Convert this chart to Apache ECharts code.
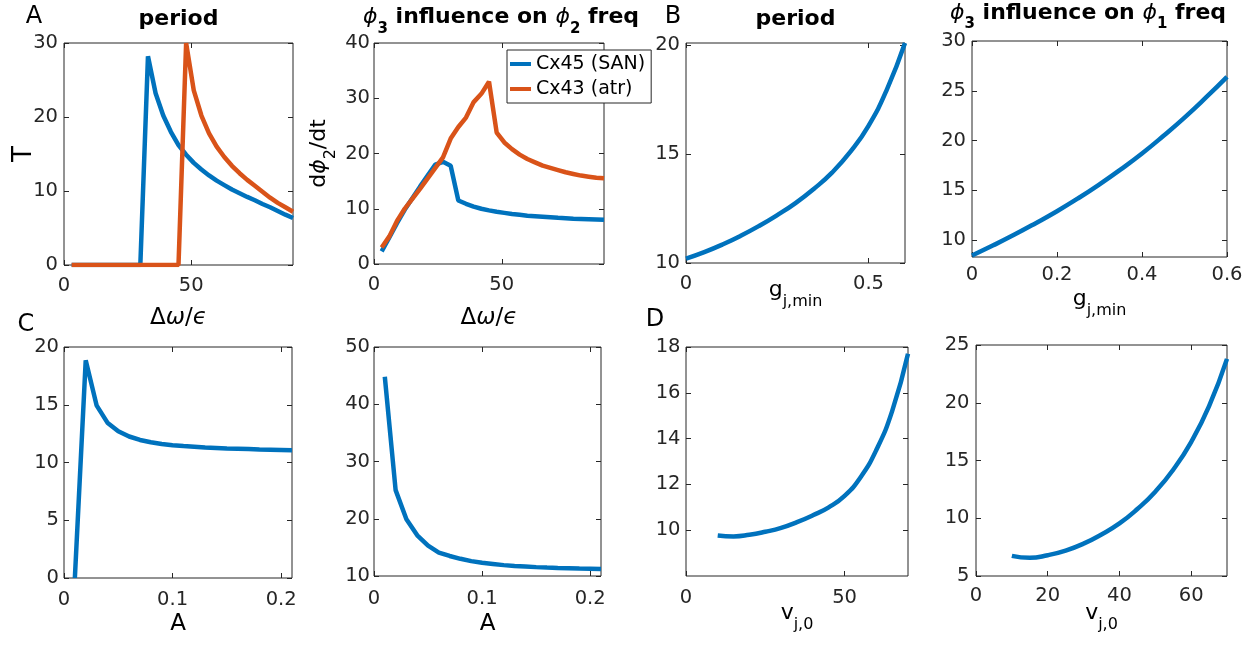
<!DOCTYPE html>
<html><head><meta charset="utf-8">
<script src="https://cdn.jsdelivr.net/npm/echarts@6.0.0/dist/echarts.min.js"></script>
<style>html,body{margin:0;padding:0;background:#fff}#c{width:1255px;height:649px}</style>
</head><body><div id="c"></div>
<script>
const FONT = 'DejaVu Sans';
const INK = '#262626';
const BLUE = '#0072BD', ORANGE = '#D95319';

// ---------------- data ----------------
const dwEps = [3,6,9,12,15,18,21,24,27,30,33,36,39,42,45,48,51,54,57,60,63,66,69,72,75,78,81,84,87,90];
const periodSAN = [0,0,0,0,0,0,0,0,0,0,28.2,23.2,20.2,18.0,16.2,14.9,13.8,12.9,12.1,11.4,10.8,10.2,9.7,9.2,8.75,8.25,7.8,7.3,6.8,6.35];
const periodAtr = [0,0,0,0,0,0,0,0,0,0,0,0,0,0,0,30,23.6,20.2,17.8,16.0,14.6,13.4,12.4,11.5,10.7,9.9,9.1,8.4,7.8,7.2];
const freqSAN = [2.3,4.8,7.4,9.8,11.9,14.0,16.0,18.0,18.5,17.8,11.5,10.9,10.4,10.0,9.7,9.45,9.25,9.05,8.9,8.75,8.65,8.55,8.45,8.35,8.3,8.2,8.15,8.1,8.05,8.0];
const freqAtr = [3.0,5.0,7.8,10.0,11.8,13.6,15.5,17.4,19.3,22.7,24.8,26.5,29.3,30.8,33.0,23.8,22.0,20.8,19.8,19.0,18.4,17.8,17.4,17.0,16.6,16.3,16.0,15.8,15.6,15.5];

const gMin = [0,0.05,0.1,0.15,0.2,0.25,0.3,0.35,0.4,0.45,0.5,0.55,0.6];
const periodG = [10.2,10.5,10.85,11.25,11.7,12.2,12.75,13.4,14.15,15.1,16.3,17.95,20.1];
const freqG = [8.45,9.47,10.55,11.7,12.9,14.2,15.6,17.1,18.7,20.45,22.3,24.3,26.4];

const ampA = [0.01,0.02,0.03,0.04,0.05,0.06,0.07,0.08,0.09,0.10,0.11,0.12,0.13,0.14,0.15,0.16,0.17,0.18,0.19,0.20,0.21];
const periodA = [0,18.85,14.95,13.45,12.7,12.25,11.95,11.75,11.6,11.5,11.42,11.36,11.3,11.26,11.22,11.19,11.16,11.13,11.11,11.09,11.07];
const freqA = [44.8,25.0,19.9,17.1,15.3,14.1,13.5,13.0,12.6,12.3,12.1,11.9,11.75,11.65,11.55,11.47,11.4,11.35,11.3,11.27,11.24];

const vj0 = [10,15,20,25,30,35,40,45,50,55,60,65,70];
const periodV = [9.77,9.73,9.8,9.93,10.1,10.35,10.65,11.0,11.5,12.3,13.5,15.2,17.7];
const freqV = [6.74,6.57,6.8,7.2,7.8,8.6,9.55,10.8,12.3,14.2,16.6,19.7,23.8];

// ---------------- tick labels ----------------
const ticksDw = [0,50];
const ticksT30 = [0,10,20,30];
const ticksF40 = [0,10,20,30,40];
const ticksG1 = [0,0.5];
const ticksG2 = [0,0.2,0.4,0.6];
const ticksPG = [10,15,20];
const ticksFG = [10,15,20,25,30];
const ticksA = [0,0.1,0.2];
const ticksPA = [0,5,10,15,20];
const ticksFA = [10,20,30,40,50];
const ticksV1 = [0,50];
const ticksV2 = [0,20,40,60];
const ticksPV = [10,12,14,16,18];
const ticksFV = [5,10,15,20,25];

const legendNames = ['Cx45 (SAN)', 'Cx43 (atr)'];

// ---------------- layout ----------------
const panels = [
  {rect:[64,43,229,222], xr:[0,90], yr:[0,30], xt:ticksDw, yt:ticksT30, xm:10.5, ym:6,
   xName:'{n|Δ}{i|ω}{n|/}{i|ϵ}', xGap:41.5, yName:'{T|T}', yGap:27,
   lines:[[dwEps,periodSAN,BLUE,legendNames[0]],[dwEps,periodAtr,ORANGE,legendNames[1]]], smooth:false},
  {rect:[374,43,230,221], xr:[0,90], yr:[0,40], xt:ticksDw, yt:ticksF40, xm:10.5, ym:4,
   xName:'{n|Δ}{i|ω}{n|/}{i|ϵ}', xGap:42.5, yName:'{g|d}{gi|ϕ}{s|2}{g|/dt}', yGap:43,
   lines:[[dwEps,freqSAN,BLUE,legendNames[0]],[dwEps,freqAtr,ORANGE,legendNames[1]]], smooth:false},
  {rect:[686,43,219,220], xr:[0,0.6], yr:[10,20.1], xt:ticksG1, yt:ticksPG, xm:11, ym:6,
   xName:'{g|g}{s|j,min}', xGap:15, lines:[[gMin,periodG,BLUE,legendNames[0]]], smooth:0.5},
  {rect:[972,41,255,216], xr:[0,0.6], yr:[8.3,30], xt:ticksG2, yt:ticksFG, xm:8, ym:6,
   xName:'{g|g}{s|j,min}', xGap:30, lines:[[gMin,freqG,BLUE,legendNames[0]]], smooth:0.5},
  {rect:[64,347,228,231], xr:[0,0.21], yr:[0,20], xt:ticksA, yt:ticksPA, xm:12, ym:5,
   xName:'{n|A}', xGap:34, lines:[[ampA,periodA,BLUE,legendNames[0]]], smooth:false},
  {rect:[374,347,227,229], xr:[0,0.21], yr:[10,50], xt:ticksA, yt:ticksFA, xm:13, ym:4,
   xName:'{n|A}', xGap:36, lines:[[ampA,freqA,BLUE,legendNames[0]]], smooth:false},
  {rect:[686,347,222,229], xr:[0,70], yr:[8,18], xt:ticksV1, yt:ticksPV, xm:12, ym:5.5,
   xName:'{g|v}{s|j,0}', xGap:25, lines:[[vj0,periodV,BLUE,legendNames[0]]], smooth:0.5},
  {rect:[976,345,251,231], xr:[0,70], yr:[5,25], xt:ticksV2, yt:ticksFV, xm:10, ym:6.5,
   xName:'{g|v}{s|j,0}', xGap:25, lines:[[vj0,freqV,BLUE,legendNames[0]]], smooth:0.5}
];

const nameRich = {
  n: {fontFamily:FONT, fontSize:23, lineHeight:24, color:'#000'},
  i: {fontFamily:FONT, fontSize:23, lineHeight:24, fontStyle:'italic', color:'#000'},
  g: {fontFamily:FONT, fontSize:22, lineHeight:24, color:'#000'},
  gi: {fontFamily:FONT, fontSize:22, lineHeight:24, fontStyle:'italic', color:'#000'},
  T: {fontFamily:FONT, fontSize:26, lineHeight:26, color:'#000'},
  s: {fontFamily:FONT, fontSize:16, lineHeight:24, color:'#000', padding:[23,0,0,0]}
};

const grid = [], xAxis = [], yAxis = [], series = [];
panels.forEach((p, k) => {
  grid.push({left:p.rect[0], top:p.rect[1], width:p.rect[2], height:p.rect[3],
    show:true, borderColor:INK, borderWidth:1, backgroundColor:'transparent', containLabel:false});
  const tick = (vals) => ({inside:true, length:5, lineStyle:{color:INK, width:1}, customValues:vals});
  const lbl = (vals, m) => ({customValues:vals, margin:m, fontFamily:FONT, fontSize:19.5, color:INK});
  xAxis.push({gridIndex:k, type:'value', position:'bottom', min:p.xr[0], max:p.xr[1],
    axisLine:{show:false, onZero:false}, splitLine:{show:false}, axisTick:tick(p.xt), axisLabel:lbl(p.xt, p.xm),
    name:p.xName, nameLocation:'middle', nameGap:p.xGap, nameMoveOverlap:false,
    nameTextStyle:{fontFamily:FONT, fontSize:22, lineHeight:24, color:'#000', rich:nameRich}});
  xAxis.push({gridIndex:k, type:'value', position:'top', min:p.xr[0], max:p.xr[1],
    axisLine:{show:false, onZero:false}, splitLine:{show:false}, axisTick:tick(p.xt), axisLabel:{show:false}});
  const ya = {gridIndex:k, type:'value', position:'left', min:p.yr[0], max:p.yr[1],
    axisLine:{show:false, onZero:false}, splitLine:{show:false}, axisTick:tick(p.yt), axisLabel:lbl(p.yt, p.ym)};
  if (p.yName) {
    Object.assign(ya, {name:p.yName, nameLocation:'middle', nameRotate:90, nameGap:p.yGap, nameMoveOverlap:false,
      nameTextStyle:{fontFamily:FONT, fontSize:22, lineHeight:24, color:'#000', rich:nameRich}});
  }
  yAxis.push(ya);
  yAxis.push({gridIndex:k, type:'value', position:'right', min:p.yr[0], max:p.yr[1],
    axisLine:{show:false, onZero:false}, splitLine:{show:false}, axisTick:tick(p.yt), axisLabel:{show:false}});
  p.lines.forEach(([xs, ys, color, name]) => {
    series.push({type:'line', name, xAxisIndex:2*k, yAxisIndex:2*k,
      data: xs.map((x, i) => [x, ys[i]]), showSymbol:false, symbol:'none',
      smooth:p.smooth, clip:true,
      lineStyle:{color, width:4.5}, itemStyle:{color}});
  });
});

const titleRich = {
  b: {fontFamily:FONT, fontSize:22, fontWeight:'bold', lineHeight:24, fill:'#000'},
  p: {fontFamily:FONT, fontSize:22, fontStyle:'italic', lineHeight:24, fill:'#000'},
  s: {fontFamily:FONT, fontSize:15, fontWeight:'bold', lineHeight:24, fill:'#000', padding:[23,0,0,0]},
  L: {fontFamily:FONT, fontSize:24, lineHeight:26, fill:'#000'}
};
const texts = [
  ['{b|period}', 178.5, 19, 'center'],
  ['{p|ϕ}{s|3}{b| influence on }{p|ϕ}{s|2}{b| freq}', 363, 17.5, 'left'],
  ['{b|period}', 795.5, 19, 'center'],
  ['{p|ϕ}{s|3}{b| influence on }{p|ϕ}{s|1}{b| freq}', 950, 13, 'left'],
  ['{L|A}', 34, 16.7, 'center'],
  ['{L|B}', 673, 16.7, 'center'],
  ['{L|C}', 26, 325, 'center'],
  ['{L|D}', 655, 320, 'center']
];
const graphic = texts.map(([t, x, y, a]) => ({type:'text', z:100,
  style:{text:t, x, y, fill:'#000', rich:titleRich, fontFamily:FONT, fontSize:22,
    align:a, verticalAlign:'middle', textAlign:a, textVerticalAlign:'middle'}}));

const chart = echarts.init(document.getElementById('c'), null, {renderer:'canvas'});
chart.setOption({
  animation:false,
  backgroundColor:'#fff',
  grid, xAxis, yAxis, series, graphic,
  legend:{data:legendNames, left:507, top:50, orient:'vertical', backgroundColor:'#fff',
    borderColor:INK, borderWidth:1, borderRadius:0, padding:[4,6,4,3], itemGap:5,
    itemWidth:21, itemHeight:4, icon:'rect', selectedMode:false, z:50,
    textStyle:{fontFamily:FONT, fontSize:19, lineHeight:20, color:'#000'}}
});
</script></body></html>
